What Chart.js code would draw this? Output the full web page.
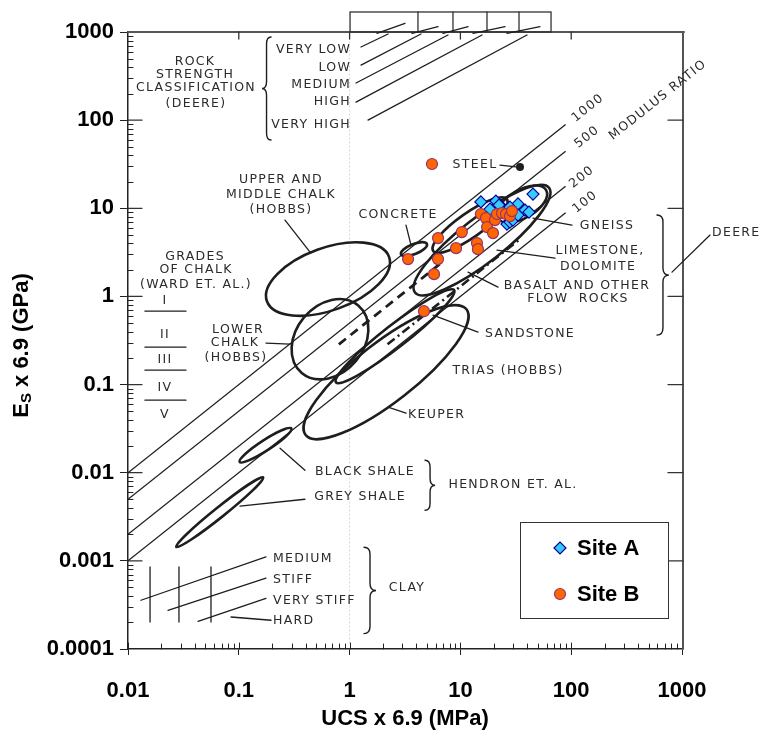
<!DOCTYPE html>
<html>
<head>
<meta charset="utf-8">
<script src="https://cdn.jsdelivr.net/npm/chart.js@4.4.1/dist/chart.umd.min.js"></script>
<style>
  html, body { margin: 0; padding: 0; background: #fff; }
  #wrap { width: 761px; height: 739px; }
</style>
</head>
<body>
<div id="wrap"><canvas id="chart" width="761" height="739"></canvas></div>
<script>
// ---- measured points (UCS x 6.9 in MPa, Es x 6.9 in GPa) ----
const ucsA = [15.3, 20.9, 45.2, 33.1, 18.5, 24.2, 28.0, 38.3, 41.6, 26.3, 28.0, 29.8, 33.1, 22.3];
const esA  = [11.8, 12.1, 14.5, 11.2, 9.8, 10.05, 10.3, 9.54, 9.06, 6.62, 6.97, 7.35, 8.38, 10.9];

const ucsB = [5.54, 3.37, 5.78, 6.28, 6.28, 9.13, 10.3, 14.1, 14.4, 15.3, 17.0, 17.4, 19.7, 20.5, 21.4, 23.7, 25.8, 28.0, 29.2, 4.69];
const esB  = [31.8, 2.65, 1.79, 2.65, 4.59, 3.53, 5.37, 4.03, 3.44, 8.6, 7.74, 6.12, 5.23, 7.35, 8.6, 8.82, 8.6, 8.15, 9.29, 0.68];

// modulus ratio lines of the Deere chart (end points)
const ratioUcs   = [0.01, 89];
const ratio1000 = [0.01, 89];
const ratio500  = [0.005, 44.5];
const ratio200  = [0.002, 17.8];
const ratio100  = [0.001, 8.9];
const dashUcs = [0.8, 6.5];
const dashEs  = [0.286, 2.32];
const dashDotUcs = [2.2, 35];
const dashDotEs  = [0.286, 4.55];

const xTickLabels = ['0.01', '0.1', '1', '10', '100', '1000'];
const yTickLabels = ['0.0001', '0.001', '0.01', '0.1', '1', '10', '100', '1000'];

// ---- background diagram, positions in log10 units [log UCS, log Es] ----
// ellipses: centre, half major axis vector, minor/major ratio
const zones = [
  [-0.195, 0.197, 0.551, 0.252, 0.48],   // upper & middle chalk
  [-0.177, -0.485, 0.255, 0.383, 0.77],  // lower chalk
  [0.329, -0.859, 0.726, 0.713, 0.29],   // keuper / trias
  [0.410, -0.451, 0.533, 0.524, 0.15],   // sandstone
  [0.581, 0.537, 0.117, 0.059, 0.36],    // concrete
  [-0.759, -1.688, 0.233, 0.190, 0.17],  // black shale
  [-1.172, -2.448, 0.392, 0.394, 0.09],  // grey shale
  [1.195, 0.639, 0.605, 0.594, 0.26],    // basalt envelope
  [1.087, 0.809, 0.333, 0.293, 0.27],    // limestone
  [1.556, 1.048, 0.218, 0.159, 0.5]      // gneiss
];

const labels = [
  ['ROCK', -1.395, 2.659, 'center'],
  ['STRENGTH', -1.395, 2.512, 'center'],
  ['CLASSIFICATION', -1.386, 2.364, 'center'],
  ['(DEERE)', -1.386, 2.183, 'center'],
  ['VERY LOW', 0.013, 2.796, 'right'],
  ['LOW', 0.013, 2.591, 'right'],
  ['MEDIUM', 0.013, 2.398, 'right'],
  ['HIGH', 0.013, 2.205, 'right'],
  ['VERY HIGH', 0.013, 1.944, 'right'],
  ['STEEL', 1.132, 1.490, 'center'],
  ['UPPER AND', -0.619, 1.320, 'center'],
  ['MIDDLE CHALK', -0.619, 1.150, 'center'],
  ['(HOBBS)', -0.619, 0.980, 'center'],
  ['CONCRETE', 0.437, 0.923, 'center'],
  ['GRADES', -1.395, 0.446, 'center'],
  ['OF CHALK', -1.386, 0.298, 'center'],
  ['(WARD ET. AL.)', -1.386, 0.128, 'center'],
  ['I', -1.666, -0.053, 'center'],
  ['II', -1.666, -0.439, 'center'],
  ['III', -1.666, -0.723, 'center'],
  ['IV', -1.666, -1.041, 'center'],
  ['V', -1.666, -1.347, 'center'],
  ['LOWER', -1.007, -0.382, 'center'],
  ['CHALK', -1.034, -0.530, 'center'],
  ['(HOBBS)', -1.025, -0.700, 'center'],
  ['KEUPER', 0.527, -1.347, 'left'],
  ['GNEISS', 2.323, 0.798, 'center'],
  ['LIMESTONE,', 2.260, 0.515, 'center'],
  ['DOLOMITE', 2.242, 0.333, 'center'],
  ['BASALT AND OTHER', 2.052, 0.117, 'center'],
  ['FLOW  ROCKS', 2.061, -0.031, 'center'],
  ['SANDSTONE', 1.628, -0.428, 'center'],
  ['TRIAS (HOBBS)', 1.430, -0.848, 'center'],
  ['BLACK SHALE', 0.139, -1.994, 'center'],
  ['GREY SHALE', 0.094, -2.278, 'center'],
  ['HENDRON ET. AL.', 1.475, -2.131, 'center'],
  ['MEDIUM', -0.691, -2.971, 'left'],
  ['STIFF', -0.691, -3.209, 'left'],
  ['VERY STIFF', -0.691, -3.447, 'left'],
  ['HARD', -0.691, -3.674, 'left'],
  ['CLAY', 0.518, -3.300, 'center'],
  ['DEERE', 3.271, 0.718, 'left']
];

const ratioLabels = [
  ['1000', 2.152, 2.137],
  ['500', 2.143, 1.808],
  ['200', 2.097, 1.354],
  ['100', 2.125, 1.070],
  ['MODULUS RATIO', 2.783, 2.228]
];

const strokes = [
  // rock strength leaders
  [0.103, 2.830, 0.347, 2.977], [0.103, 2.625, 0.644, 2.977], [0.058, 2.421, 0.888, 2.966],
  [0.058, 2.205, 1.195, 2.966], [0.166, 2.001, 1.601, 2.966],
  // box diagonals
  [0.247, 2.985, 0.500, 3.099], [0.563, 2.985, 0.798, 3.060], [0.843, 2.985, 1.069, 3.060],
  [1.114, 2.985, 1.403, 3.060], [1.421, 2.985, 1.718, 3.060],
  // label leaders
  [1.357, 1.490, 1.520, 1.468], [-0.583, 0.866, -0.357, 0.503], [0.509, 0.809, 0.554, 0.582],
  [-0.755, -0.530, -0.538, -0.541], [0.347, -1.257, 0.509, -1.325], [1.655, 0.889, 2.007, 0.809],
  [1.330, 0.526, 1.854, 0.435], [1.069, 0.276, 1.339, 0.106], [0.753, -0.212, 1.159, -0.405],
  [-0.628, -1.722, -0.403, -1.972], [-0.989, -2.380, -0.403, -2.301], [2.910, 0.276, 3.253, 0.696],
  // chalk grade bars
  [-1.847, -0.167, -1.477, -0.167], [-1.847, -0.576, -1.477, -0.576],
  [-1.847, -0.837, -1.477, -0.837], [-1.847, -1.177, -1.477, -1.177],
  // clay
  [-1.883, -3.447, -0.755, -2.956], [-1.639, -3.561, -0.755, -3.197], [-1.368, -3.686, -0.755, -3.425],
  [-1.070, -3.637, -0.709, -3.674],
  [-1.801, -3.069, -1.801, -3.694], [-1.540, -3.069, -1.540, -3.694], [-1.251, -3.069, -1.251, -3.694]
];

// braces: x of ends, top, bottom, direction of tip, width in px
const braces = [
  [-0.709, 2.943, 1.774, -1, 9],
  [2.774, 0.923, -0.439, 1, 12],
  [0.681, -1.858, -2.426, 1, 10],
  [0.130, -2.846, -3.825, 1, 12]
];

const INK = '#1e1e1e';

function isDecade(v) {
  const l = Math.log10(v);
  return Math.abs(l - Math.round(l)) < 1e-6;
}

const diagramPlugin = {
  id: 'deereDiagram',
  beforeDatasetsDraw(chart) {
    const { ctx, chartArea: a, scales: { x, y } } = chart;
    const px = lx => x.getPixelForValue(Math.pow(10, lx));
    const py = ly => y.getPixelForValue(Math.pow(10, ly));
    ctx.save();
    ctx.strokeStyle = INK;
    ctx.fillStyle = INK;
    ctx.lineCap = 'round';

    // faint scan grid line
    ctx.save();
    ctx.strokeStyle = 'rgba(0,0,0,0.18)';
    ctx.setLineDash([1, 3]);
    ctx.lineWidth = 1;
    ctx.beginPath();
    ctx.moveTo(px(0), a.top + 10); ctx.lineTo(px(0), a.bottom - 4);
    ctx.stroke();
    ctx.restore();

    // frame of the scanned chart
    ctx.lineWidth = 2;
    ctx.strokeStyle = '#555';
    ctx.beginPath();
    ctx.moveTo(a.left, a.top); ctx.lineTo(a.right + 2, a.top);
    ctx.moveTo(a.right + 1, a.top); ctx.lineTo(a.right + 1, a.bottom);
    ctx.stroke();
    ctx.lineWidth = 1.3;
    ctx.strokeStyle = '#333';
    const bx1 = px(0.004), bx2 = px(1.818), by1 = py(3.227), by2 = py(3.0);
    ctx.strokeRect(bx1, by1, bx2 - bx1, by2 - by1);
    ctx.beginPath();
    [0.617, 0.933, 1.240, 1.529].forEach(d => { ctx.moveTo(px(d), by1); ctx.lineTo(px(d), by2); });
    // inward decade ticks
    for (let d = -1; d <= 2; d++) { ctx.moveTo(px(d), a.top); ctx.lineTo(px(d), a.top + 7); }
    for (let d = -3; d <= 2; d++) {
      ctx.moveTo(a.right + 1, py(d)); ctx.lineTo(a.right - 14, py(d));
      ctx.moveTo(a.left, py(d)); ctx.lineTo(a.left + 14, py(d));
    }
    ctx.stroke();

    // minor ticks on the plot axes
    ctx.strokeStyle = '#222';
    ctx.lineWidth = 1;
    ctx.beginPath();
    for (let d = -2; d < 3; d++) {
      for (let m = 2; m <= 9; m++) {
        const xx = Math.round(x.getPixelForValue(m * Math.pow(10, d))) + 0.5;
        ctx.moveTo(xx, a.bottom); ctx.lineTo(xx, a.bottom - 5);
      }
      ctx.moveTo(Math.round(px(d)) + 0.5, a.bottom); ctx.lineTo(Math.round(px(d)) + 0.5, a.bottom - 6);
    }
    for (let d = -4; d < 3; d++) {
      for (let m = 2; m <= 9; m++) {
        const yy = Math.round(y.getPixelForValue(m * Math.pow(10, d))) + 0.5;
        ctx.moveTo(a.left, yy); ctx.lineTo(a.left + 5, yy);
      }
    }
    ctx.stroke();

    // zone outlines
    ctx.strokeStyle = INK;
    ctx.lineWidth = 2.6;
    zones.forEach(([lx, ly, dx, dy, r]) => {
      const cx = px(lx), cy = py(ly);
      const ex = px(lx + dx) - cx, ey = py(ly + dy) - cy;
      const major = Math.hypot(ex, ey);
      ctx.beginPath();
      ctx.ellipse(cx, cy, major, major * r, Math.atan2(ey, ex), 0, Math.PI * 2);
      ctx.stroke();
    });

    // leaders and small strokes
    ctx.lineWidth = 1.3;
    ctx.beginPath();
    strokes.forEach(([x1, y1, x2, y2]) => { ctx.moveTo(px(x1), py(y1)); ctx.lineTo(px(x2), py(y2)); });
    ctx.stroke();

    // steel point
    ctx.beginPath();
    ctx.arc(px(1.538), py(1.468), 4, 0, Math.PI * 2);
    ctx.fill();

    // braces
    ctx.lineWidth = 1.4;
    braces.forEach(([lx, ly1, ly2, dir, w]) => {
      const bx = px(lx), t = py(ly1), b = py(ly2), m = (t + b) / 2;
      const r = Math.min(7, (b - t) / 4);
      const h = bx + dir * w / 2, tip = bx + dir * w;
      ctx.beginPath();
      ctx.moveTo(bx, t);
      ctx.quadraticCurveTo(h, t, h, t + r);
      ctx.lineTo(h, m - r);
      ctx.quadraticCurveTo(h, m, tip, m);
      ctx.quadraticCurveTo(h, m, h, m + r);
      ctx.lineTo(h, b - r);
      ctx.quadraticCurveTo(h, b, bx, b);
      ctx.stroke();
    });

    // texts
    ctx.fillStyle = '#2b2b2b';
    ctx.font = '12.5px "DejaVu Sans"';
    ctx.letterSpacing = '1.3px';
    ctx.textBaseline = 'middle';
    labels.forEach(([t, lx, ly, al]) => {
      ctx.textAlign = al;
      ctx.fillText(t, px(lx), py(ly));
    });
    ratioLabels.forEach(([t, lx, ly]) => {
      ctx.save();
      ctx.translate(px(lx), py(ly));
      ctx.rotate(-Math.atan2(y.height / 7, x.width / 5));
      ctx.textAlign = 'center';
      ctx.fillText(t, 0, 0);
      ctx.restore();
    });
    ctx.letterSpacing = '0px';
    ctx.restore();
  }
};

const legendAndTitles = {
  id: 'legendAndTitles',
  afterDatasetsDraw(chart) {
    const { ctx, chartArea: a } = chart;
    const bx = a.right - 162, by = a.bottom - 127, bw = 148, bh = 96;
    ctx.save();
    ctx.fillStyle = '#fff';
    ctx.fillRect(bx, by, bw, bh);
    ctx.strokeStyle = '#333';
    ctx.lineWidth = 1;
    ctx.strokeRect(bx + 0.5, by + 0.5, bw, bh);
    ctx.font = 'bold 22px "Liberation Sans"';
    ctx.textBaseline = 'middle';
    ctx.textAlign = 'left';
    chart.data.datasets.slice(0, 2).forEach((ds, i) => {
      const cx = bx + 40, cy = by + 26 + i * 46;
      ctx.fillStyle = ds.backgroundColor;
      ctx.strokeStyle = ds.borderColor;
      ctx.lineWidth = 1.2;
      ctx.beginPath();
      if (ds.pointStyle === 'rectRot') {
        ctx.moveTo(cx - 6, cy); ctx.lineTo(cx, cy - 6); ctx.lineTo(cx + 6, cy); ctx.lineTo(cx, cy + 6);
        ctx.closePath();
      } else {
        ctx.arc(cx, cy, 5.5, 0, Math.PI * 2);
      }
      ctx.fill(); ctx.stroke();
      ctx.fillStyle = '#000';
      ctx.fillText(ds.label, bx + 57, cy + 1);
    });

    // axis titles
    ctx.fillStyle = '#000';
    ctx.textAlign = 'center';
    ctx.fillText('UCS x 6.9 (MPa)', (a.left + a.right) / 2, 719);
    ctx.save();
    ctx.translate(22, (a.top + a.bottom) / 2 + 5);
    ctx.rotate(-Math.PI / 2);
    ctx.textAlign = 'left';
    const big = 'bold 22px "Liberation Sans"', small = 'bold 15px "Liberation Sans"';
    const rest = ' x 6.9 (GPa)';
    ctx.font = big; const wE = ctx.measureText('E').width, wR = ctx.measureText(rest).width;
    ctx.font = small; const wS = ctx.measureText('S').width;
    let x0 = -(wE + wS + wR) / 2;
    ctx.font = big; ctx.fillText('E', x0, 0);
    ctx.font = small; ctx.fillText('S', x0 + wE, 5);
    ctx.font = big; ctx.fillText(rest, x0 + wE + wS, 0);
    ctx.restore();
    ctx.restore();
  }
};

const pts = (xs, ys) => xs.map((v, i) => ({ x: v, y: ys[i] }));
const lineDs = (ys, xs, extra) => Object.assign({
  type: 'line', data: pts(xs, ys), borderColor: INK, borderWidth: 1.3,
  pointRadius: 0, fill: false, order: 3
}, extra || {});

new Chart(document.getElementById('chart'), {
  type: 'scatter',
  data: {
    datasets: [
      { label: 'Site A', data: pts(ucsA, esA), pointStyle: 'rectRot', pointRadius: 6,
        backgroundColor: '#33CCFF', borderColor: '#000099', borderWidth: 1.2, order: 1 },
      { label: 'Site B', data: pts(ucsB, esB), pointStyle: 'circle', pointRadius: 5.5,
        backgroundColor: '#FF6600', borderColor: '#993366', borderWidth: 1.2, order: 0 },
      lineDs(ratio1000, ratioUcs),
      lineDs(ratio500, ratioUcs),
      lineDs(ratio200, ratioUcs),
      lineDs(ratio100, ratioUcs),
      lineDs(dashEs, dashUcs, { borderWidth: 2.8, borderDash: [9, 6], borderCapStyle: 'butt' }),
      lineDs(dashDotEs, dashDotUcs, { borderWidth: 2.6, borderDash: [9, 4, 2, 4], borderCapStyle: 'butt' })
    ]
  },
  options: {
    responsive: false,
    animation: false,
    devicePixelRatio: 1,
    layout: { padding: { top: 32, right: 79, bottom: 0, left: 0 } },
    plugins: { legend: { display: false }, tooltip: { enabled: false } },
    scales: {
      x: {
        type: 'logarithmic', min: 0.01, max: 1000,
        afterFit: s => { s.height = 90; },
        border: { display: true, color: '#222', width: 1.5 },
        grid: { drawOnChartArea: false, drawTicks: true, tickLength: 6,
          tickColor: c => isDecade(c.tick.value) ? '#222' : 'rgba(0,0,0,0)' },
        ticks: {
          autoSkip: false, maxRotation: 0, padding: 23, color: '#000',
          font: { family: 'Liberation Sans', size: 22, weight: 'bold' },
          callback: v => isDecade(v) ? xTickLabels[Math.round(Math.log10(v)) + 2] : ''
        }
      },
      y: {
        type: 'logarithmic', min: 0.0001, max: 1000,
        afterFit: s => { s.width = 128; },
        border: { display: true, color: '#222', width: 1.5 },
        grid: { drawOnChartArea: false, drawTicks: true, tickLength: 8,
          tickColor: c => isDecade(c.tick.value) ? '#222' : 'rgba(0,0,0,0)' },
        ticks: {
          autoSkip: false, padding: 6, color: '#000',
          font: { family: 'Liberation Sans', size: 22, weight: 'bold' },
          callback: v => isDecade(v) ? yTickLabels[Math.round(Math.log10(v)) + 4] : ''
        }
      }
    }
  },
  plugins: [diagramPlugin, legendAndTitles]
});
</script>
</body>
</html>
